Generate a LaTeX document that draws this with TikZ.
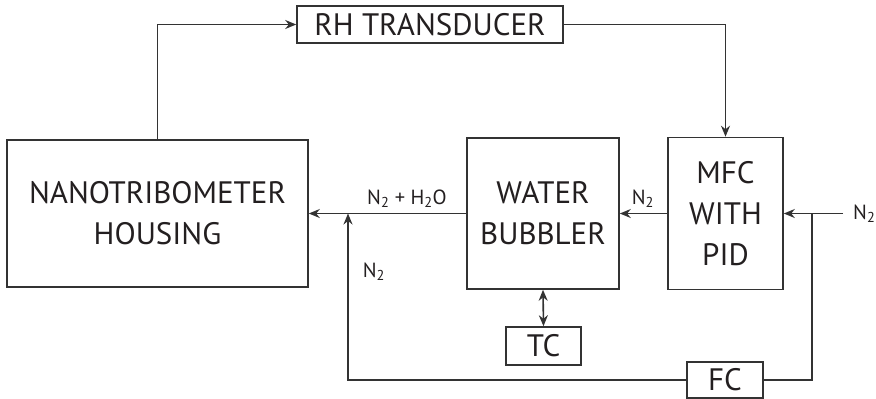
\documentclass[tikz,border=0pt]{standalone}
\usepackage{fontspec}
\setmainfont{PT Sans}
\usepackage{tikz}
\usetikzlibrary{arrows.meta,positioning}
\definecolor{Ink}{HTML}{231F20}
\definecolor{Wire}{HTML}{333333}

\begin{document}
\begin{tikzpicture}[x=1pt,y=-1pt,
  blockbox/.style={draw=Wire,line width=1.6pt,align=center,inner sep=0pt,
    text=Ink,font=\fontsize{31}{41}\selectfont},
  flow/.style={draw=Wire,line width=1.6pt,-{Stealth[length=11pt,width=9pt]}},
  gaslabel/.style={text=Ink,font=\fontsize{20.5}{22}\selectfont,inner sep=1pt}]
  \useasboundingbox (0,0) rectangle (876,399);
  % blocks
  \node[blockbox,minimum width=301pt,minimum height=147pt] (housing) at (157.5,213.5) {NANOTRIBOMETER\\HOUSING};
  \node[blockbox,minimum width=266pt,minimum height=37pt] (rh) at (430,24.5) {RH TRANSDUCER};
  \node[blockbox,minimum width=152pt,minimum height=151pt] (bubbler) at (543,213.5) {WATER\\BUBBLER};
  \node[blockbox,minimum width=115pt,minimum height=152pt] (mfc) at (725.5,213.5) {MFC\\WITH\\PID};
  \node[blockbox,minimum width=75pt,minimum height=38pt] (tc) at (543.5,346) {TC};
  \node[blockbox,minimum width=76pt,minimum height=36pt] (fc) at (725,380) {FC};
  \coordinate (nin) at (843,213.5);
  \coordinate (split) at (812,213.5);
  \coordinate (join) at (348,213.5);

  % connectors
  \draw[flow] (housing.north) |- (rh.west);
  \draw[flow] (rh.east) -| (mfc.north);
  \draw[flow] (bubbler.west) -- (housing.east);
  \draw[flow] (mfc.west) -- (bubbler.east);
  \draw[flow] (nin) -- (mfc.east);
  \draw[draw=Wire,line width=1.6pt] (split) |- (fc.east);
  \draw[flow] (fc.west) -| (join);
  \draw[flow,{Stealth[length=11pt,width=9pt]}-{Stealth[length=11pt,width=9pt]}] (bubbler.south) -- (tc.north);

  % gas labels
  \node[gaslabel,anchor=south] (mix) at (407,209) {N\textsubscript{2} + H\textsubscript{2}O};
  \node[gaslabel,anchor=south] (n2mfc) at (643,209) {N\textsubscript{2}};
  \node[gaslabel,anchor=west] (n2in) at (nin) {\hspace{9pt}N\textsubscript{2}};
  \node[gaslabel] (n2fc) at (374,272) {N\textsubscript{2}};
\end{tikzpicture}
\end{document}
